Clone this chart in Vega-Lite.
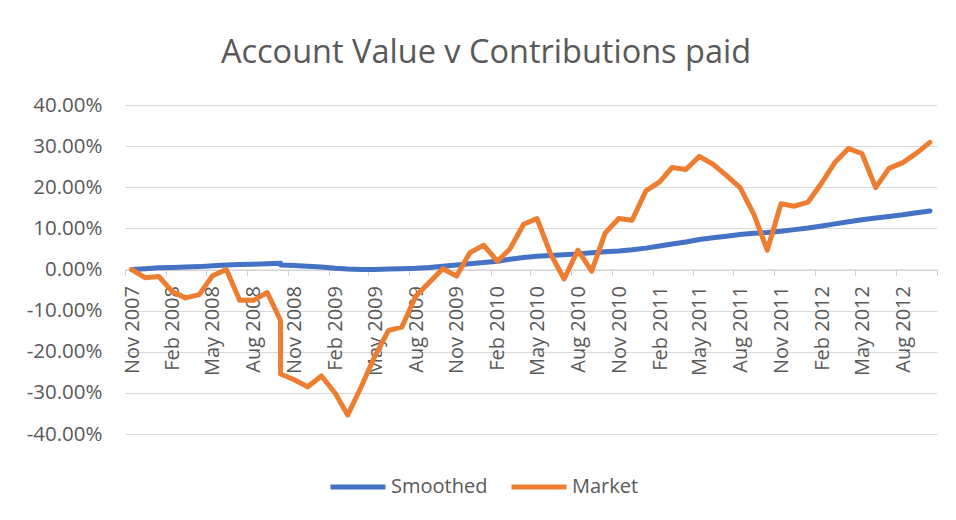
{
  "$schema": "https://vega.github.io/schema/vega-lite/v6.json",
  "autosize": {"type": "none"},
  "width": 812,
  "height": 329,
  "padding": {"left": 125, "top": 105, "right": 19, "bottom": 86},
  "background": "white",
  "config": {
    "font": "Open Sans",
    "view": {"stroke": null}
  },
  "title": {
    "text": "Account Value v Contributions paid",
    "fontSize": 32.5,
    "fontWeight": "normal",
    "color": "#595959",
    "font": "Open Sans",
    "anchor": "middle",
    "frame": "group",
    "dx": -45,
    "offset": 26
  },
  "data": {
    "values": [
      {"date": "2007-11-16", "series": "Smoothed", "value": 0.000, "seq": 0},
      {"date": "2007-12-16", "series": "Smoothed", "value": 0.002, "seq": 1},
      {"date": "2008-01-16", "series": "Smoothed", "value": 0.004, "seq": 2},
      {"date": "2008-02-16", "series": "Smoothed", "value": 0.005, "seq": 3},
      {"date": "2008-03-16", "series": "Smoothed", "value": 0.006, "seq": 4},
      {"date": "2008-04-16", "series": "Smoothed", "value": 0.007, "seq": 5},
      {"date": "2008-05-16", "series": "Smoothed", "value": 0.009, "seq": 6},
      {"date": "2008-06-16", "series": "Smoothed", "value": 0.011, "seq": 7},
      {"date": "2008-07-16", "series": "Smoothed", "value": 0.012, "seq": 8},
      {"date": "2008-08-16", "series": "Smoothed", "value": 0.013, "seq": 9},
      {"date": "2008-09-16", "series": "Smoothed", "value": 0.014, "seq": 10},
      {"date": "2008-10-16", "series": "Smoothed", "value": 0.015, "seq": 11},
      {"date": "2008-10-16", "series": "Smoothed", "value": 0.011, "seq": 12},
      {"date": "2008-11-16", "series": "Smoothed", "value": 0.010, "seq": 13},
      {"date": "2008-12-16", "series": "Smoothed", "value": 0.008, "seq": 14},
      {"date": "2009-01-16", "series": "Smoothed", "value": 0.006, "seq": 15},
      {"date": "2009-02-16", "series": "Smoothed", "value": 0.003, "seq": 16},
      {"date": "2009-03-16", "series": "Smoothed", "value": 0.001, "seq": 17},
      {"date": "2009-04-16", "series": "Smoothed", "value": 0.000, "seq": 18},
      {"date": "2009-05-16", "series": "Smoothed", "value": 0.000, "seq": 19},
      {"date": "2009-06-16", "series": "Smoothed", "value": 0.001, "seq": 20},
      {"date": "2009-07-16", "series": "Smoothed", "value": 0.002, "seq": 21},
      {"date": "2009-08-16", "series": "Smoothed", "value": 0.003, "seq": 22},
      {"date": "2009-09-16", "series": "Smoothed", "value": 0.005, "seq": 23},
      {"date": "2009-10-16", "series": "Smoothed", "value": 0.008, "seq": 24},
      {"date": "2009-11-16", "series": "Smoothed", "value": 0.011, "seq": 25},
      {"date": "2009-12-16", "series": "Smoothed", "value": 0.014, "seq": 26},
      {"date": "2010-01-16", "series": "Smoothed", "value": 0.017, "seq": 27},
      {"date": "2010-02-16", "series": "Smoothed", "value": 0.020, "seq": 28},
      {"date": "2010-03-16", "series": "Smoothed", "value": 0.025, "seq": 29},
      {"date": "2010-04-16", "series": "Smoothed", "value": 0.029, "seq": 30},
      {"date": "2010-05-16", "series": "Smoothed", "value": 0.032, "seq": 31},
      {"date": "2010-06-16", "series": "Smoothed", "value": 0.034, "seq": 32},
      {"date": "2010-07-16", "series": "Smoothed", "value": 0.036, "seq": 33},
      {"date": "2010-08-16", "series": "Smoothed", "value": 0.038, "seq": 34},
      {"date": "2010-09-16", "series": "Smoothed", "value": 0.041, "seq": 35},
      {"date": "2010-10-16", "series": "Smoothed", "value": 0.043, "seq": 36},
      {"date": "2010-11-16", "series": "Smoothed", "value": 0.045, "seq": 37},
      {"date": "2010-12-16", "series": "Smoothed", "value": 0.048, "seq": 38},
      {"date": "2011-01-16", "series": "Smoothed", "value": 0.052, "seq": 39},
      {"date": "2011-02-16", "series": "Smoothed", "value": 0.057, "seq": 40},
      {"date": "2011-03-16", "series": "Smoothed", "value": 0.062, "seq": 41},
      {"date": "2011-04-16", "series": "Smoothed", "value": 0.067, "seq": 42},
      {"date": "2011-05-16", "series": "Smoothed", "value": 0.073, "seq": 43},
      {"date": "2011-06-16", "series": "Smoothed", "value": 0.077, "seq": 44},
      {"date": "2011-07-16", "series": "Smoothed", "value": 0.081, "seq": 45},
      {"date": "2011-08-16", "series": "Smoothed", "value": 0.085, "seq": 46},
      {"date": "2011-09-16", "series": "Smoothed", "value": 0.088, "seq": 47},
      {"date": "2011-10-16", "series": "Smoothed", "value": 0.090, "seq": 48},
      {"date": "2011-11-16", "series": "Smoothed", "value": 0.093, "seq": 49},
      {"date": "2011-12-16", "series": "Smoothed", "value": 0.097, "seq": 50},
      {"date": "2012-01-16", "series": "Smoothed", "value": 0.101, "seq": 51},
      {"date": "2012-02-16", "series": "Smoothed", "value": 0.106, "seq": 52},
      {"date": "2012-03-16", "series": "Smoothed", "value": 0.111, "seq": 53},
      {"date": "2012-04-16", "series": "Smoothed", "value": 0.116, "seq": 54},
      {"date": "2012-05-16", "series": "Smoothed", "value": 0.121, "seq": 55},
      {"date": "2012-06-16", "series": "Smoothed", "value": 0.125, "seq": 56},
      {"date": "2012-07-16", "series": "Smoothed", "value": 0.129, "seq": 57},
      {"date": "2012-08-16", "series": "Smoothed", "value": 0.133, "seq": 58},
      {"date": "2012-09-16", "series": "Smoothed", "value": 0.138, "seq": 59},
      {"date": "2012-10-16", "series": "Smoothed", "value": 0.142, "seq": 60},
      {"date": "2007-11-16", "series": "Market", "value": 0.000, "seq": 0},
      {"date": "2007-12-16", "series": "Market", "value": -0.020, "seq": 1},
      {"date": "2008-01-16", "series": "Market", "value": -0.017, "seq": 2},
      {"date": "2008-02-16", "series": "Market", "value": -0.054, "seq": 3},
      {"date": "2008-03-16", "series": "Market", "value": -0.069, "seq": 4},
      {"date": "2008-04-16", "series": "Market", "value": -0.061, "seq": 5},
      {"date": "2008-05-16", "series": "Market", "value": -0.015, "seq": 6},
      {"date": "2008-06-16", "series": "Market", "value": 0.000, "seq": 7},
      {"date": "2008-07-16", "series": "Market", "value": -0.075, "seq": 8},
      {"date": "2008-08-16", "series": "Market", "value": -0.075, "seq": 9},
      {"date": "2008-09-16", "series": "Market", "value": -0.056, "seq": 10},
      {"date": "2008-10-16", "series": "Market", "value": -0.124, "seq": 11},
      {"date": "2008-10-16", "series": "Market", "value": -0.254, "seq": 12},
      {"date": "2008-11-16", "series": "Market", "value": -0.268, "seq": 13},
      {"date": "2008-12-16", "series": "Market", "value": -0.285, "seq": 14},
      {"date": "2009-01-16", "series": "Market", "value": -0.259, "seq": 15},
      {"date": "2009-02-16", "series": "Market", "value": -0.301, "seq": 16},
      {"date": "2009-03-16", "series": "Market", "value": -0.354, "seq": 17},
      {"date": "2009-04-16", "series": "Market", "value": -0.284, "seq": 18},
      {"date": "2009-05-16", "series": "Market", "value": -0.211, "seq": 19},
      {"date": "2009-06-16", "series": "Market", "value": -0.148, "seq": 20},
      {"date": "2009-07-16", "series": "Market", "value": -0.140, "seq": 21},
      {"date": "2009-08-16", "series": "Market", "value": -0.065, "seq": 22},
      {"date": "2009-09-16", "series": "Market", "value": -0.031, "seq": 23},
      {"date": "2009-10-16", "series": "Market", "value": 0.002, "seq": 24},
      {"date": "2009-11-16", "series": "Market", "value": -0.016, "seq": 25},
      {"date": "2009-12-16", "series": "Market", "value": 0.041, "seq": 26},
      {"date": "2010-01-16", "series": "Market", "value": 0.059, "seq": 27},
      {"date": "2010-02-16", "series": "Market", "value": 0.020, "seq": 28},
      {"date": "2010-03-16", "series": "Market", "value": 0.050, "seq": 29},
      {"date": "2010-04-16", "series": "Market", "value": 0.110, "seq": 30},
      {"date": "2010-05-16", "series": "Market", "value": 0.124, "seq": 31},
      {"date": "2010-06-16", "series": "Market", "value": 0.037, "seq": 32},
      {"date": "2010-07-16", "series": "Market", "value": -0.023, "seq": 33},
      {"date": "2010-08-16", "series": "Market", "value": 0.047, "seq": 34},
      {"date": "2010-09-16", "series": "Market", "value": -0.004, "seq": 35},
      {"date": "2010-10-16", "series": "Market", "value": 0.088, "seq": 36},
      {"date": "2010-11-16", "series": "Market", "value": 0.124, "seq": 37},
      {"date": "2010-12-16", "series": "Market", "value": 0.120, "seq": 38},
      {"date": "2011-01-16", "series": "Market", "value": 0.191, "seq": 39},
      {"date": "2011-02-16", "series": "Market", "value": 0.213, "seq": 40},
      {"date": "2011-03-16", "series": "Market", "value": 0.248, "seq": 41},
      {"date": "2011-04-16", "series": "Market", "value": 0.243, "seq": 42},
      {"date": "2011-05-16", "series": "Market", "value": 0.275, "seq": 43},
      {"date": "2011-06-16", "series": "Market", "value": 0.256, "seq": 44},
      {"date": "2011-07-16", "series": "Market", "value": 0.229, "seq": 45},
      {"date": "2011-08-16", "series": "Market", "value": 0.199, "seq": 46},
      {"date": "2011-09-16", "series": "Market", "value": 0.134, "seq": 47},
      {"date": "2011-10-16", "series": "Market", "value": 0.047, "seq": 48},
      {"date": "2011-11-16", "series": "Market", "value": 0.160, "seq": 49},
      {"date": "2011-12-16", "series": "Market", "value": 0.154, "seq": 50},
      {"date": "2012-01-16", "series": "Market", "value": 0.164, "seq": 51},
      {"date": "2012-02-16", "series": "Market", "value": 0.211, "seq": 52},
      {"date": "2012-03-16", "series": "Market", "value": 0.260, "seq": 53},
      {"date": "2012-04-16", "series": "Market", "value": 0.294, "seq": 54},
      {"date": "2012-05-16", "series": "Market", "value": 0.282, "seq": 55},
      {"date": "2012-06-16", "series": "Market", "value": 0.199, "seq": 56},
      {"date": "2012-07-16", "series": "Market", "value": 0.246, "seq": 57},
      {"date": "2012-08-16", "series": "Market", "value": 0.260, "seq": 58},
      {"date": "2012-09-16", "series": "Market", "value": 0.283, "seq": 59},
      {"date": "2012-10-16", "series": "Market", "value": 0.309, "seq": 60}
    ]
  },
  "mark": {"type": "line", "strokeWidth": 5, "strokeCap": "round", "strokeJoin": "round"},
  "encoding": {
    "x": {
      "field": "date",
      "type": "temporal",
      "scale": {
        "type": "utc",
        "domain": [
          {"year": 2007, "month": 11, "date": 1, "utc": true},
          {"year": 2012, "month": 11, "date": 1, "utc": true}
        ]
      },
      "axis": {
        "title": null,
        "orient": "bottom",
        "offset": -164.5,
        "grid": false,
        "values": [
          {"year": 2007, "month": 11, "date": 1, "utc": true},
          {"year": 2008, "month": 2, "date": 1, "utc": true},
          {"year": 2008, "month": 5, "date": 1, "utc": true},
          {"year": 2008, "month": 8, "date": 1, "utc": true},
          {"year": 2008, "month": 11, "date": 1, "utc": true},
          {"year": 2009, "month": 2, "date": 1, "utc": true},
          {"year": 2009, "month": 5, "date": 1, "utc": true},
          {"year": 2009, "month": 8, "date": 1, "utc": true},
          {"year": 2009, "month": 11, "date": 1, "utc": true},
          {"year": 2010, "month": 2, "date": 1, "utc": true},
          {"year": 2010, "month": 5, "date": 1, "utc": true},
          {"year": 2010, "month": 8, "date": 1, "utc": true},
          {"year": 2010, "month": 11, "date": 1, "utc": true},
          {"year": 2011, "month": 2, "date": 1, "utc": true},
          {"year": 2011, "month": 5, "date": 1, "utc": true},
          {"year": 2011, "month": 8, "date": 1, "utc": true},
          {"year": 2011, "month": 11, "date": 1, "utc": true},
          {"year": 2012, "month": 2, "date": 1, "utc": true},
          {"year": 2012, "month": 5, "date": 1, "utc": true},
          {"year": 2012, "month": 8, "date": 1, "utc": true},
          {"year": 2012, "month": 11, "date": 1, "utc": true}
        ],
        "labelExpr": "datum.value >= utc(2012, 9, 20) ? '' : utcFormat(datum.value, '%b %Y')",
        "labelAngle": -90,
        "labelAlign": "right",
        "labelBaseline": "middle",
        "labelOffset": 7,
        "labelPadding": 10,
        "labelFontSize": 20,
        "labelFont": "Open Sans",
        "labelColor": "#595959",
        "labelOverlap": false,
        "labelBound": false,
        "labelFlush": false,
        "tickSize": 6,
        "tickColor": "#d0d0d0",
        "tickWidth": 1,
        "domainColor": "#d0d0d0",
        "domainWidth": 1.2,
        "zindex": 0
      }
    },
    "y": {
      "field": "value",
      "type": "quantitative",
      "scale": {"domain": [-0.4, 0.4], "nice": false, "zero": false},
      "axis": {
        "title": null,
        "values": [-0.4, -0.3, -0.2, -0.1, 0, 0.1, 0.2, 0.3, 0.4],
        "labelExpr": "replace(format(datum.value, '.2%'), '\u2212', '-')",
        "domain": false,
        "ticks": false,
        "grid": true,
        "gridColor": "#d9d9d9",
        "gridWidth": 1.2,
        "labelPadding": 23,
        "labelFontSize": 20.5,
        "labelFont": "Open Sans",
        "labelColor": "#595959"
      }
    },
    "color": {
      "field": "series",
      "type": "nominal",
      "scale": {"domain": ["Smoothed", "Market"], "range": ["#4472C4", "#ED7D31"]},
      "legend": {
        "title": null,
        "orient": "none",
        "legendX": 203,
        "legendY": 352,
        "direction": "horizontal",
        "symbolType": "stroke",
        "symbolSize": 3025,
        "symbolStrokeWidth": 5,
        "labelFontSize": 20,
        "labelFont": "Open Sans",
        "labelColor": "#595959",
        "labelOffset": 3,
        "columnPadding": 13,
        "labelLimit": 300
      }
    },
    "order": {"field": "seq", "type": "quantitative"}
  }
}
